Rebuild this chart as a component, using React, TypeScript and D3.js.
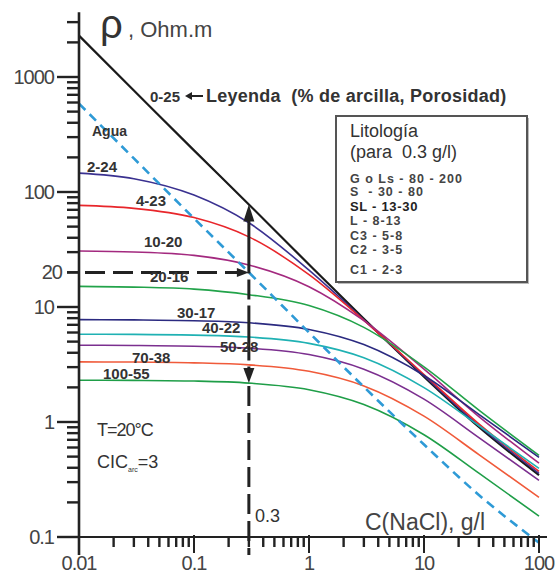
import * as d3 from "d3";

// NaCl concentration (g/l) where the curves were read
const conc = [0.01, 0.03, 0.1, 0.3, 1, 3, 10, 30, 100];

// water resistivity (dashed blue "Agua" line)
const agua = [587, 196, 59, 20, 6.0, 2.02, 0.637, 0.232, 0.089];

// rock resistivity per clay % - porosity label
const labels = ["0-25", "2-24", "4-23", "10-20", "20-16", "30-17", "40-22", "50-28", "70-38", "100-55"];
const s0_25 = [2290, 764, 230, 78, 23.4, 7.9, 2.48, 0.905, 0.345];
const s2_24 = [146, 130.6, 94, 54, 20.9, 7.74, 2.53, 0.93, 0.358];
const s4_23 = [76.5, 72.1, 59.9, 40.7, 19.1, 7.66, 2.59, 0.963, 0.372];
const s10_20 = [30.7, 30.1, 28.1, 23.2, 15.0, 7.6, 2.88, 1.116, 0.438];
const s20_16 = [15.1, 14.9, 14.3, 12.8, 10.3, 6.65, 3.02, 1.27, 0.513];
const s30_17 = [7.76, 7.72, 7.6, 7.3, 6.38, 4.71, 2.54, 1.166, 0.493];
const s40_22 = [5.8, 5.78, 5.69, 5.48, 4.83, 3.62, 1.99, 0.928, 0.395];
const s50_28 = [4.65, 4.63, 4.56, 4.39, 3.86, 2.88, 1.58, 0.732, 0.311];
const s70_38 = [3.33, 3.32, 3.27, 3.14, 2.76, 2.06, 1.124, 0.521, 0.221];
const s100_55 = [2.31, 2.3, 2.27, 2.18, 1.91, 1.42, 0.775, 0.359, 0.152];
const series = [s0_25, s2_24, s4_23, s10_20, s20_16, s30_17, s40_22, s50_28, s70_38, s100_55];
const colors = ["#1a1a1a", "#3a3190", "#e8262b", "#a3297f", "#22a34a", "#2b2a80", "#1fb1b3", "#7b2f8f", "#f05a3a", "#1f9e48"];

// label anchor (left x, baseline y) in px
const labelPos: [number, number][] = [
  [150, 102], [87, 172], [136, 206], [144, 247], [150, 282],
  [177, 318], [202, 333], [220, 352], [132, 363], [103, 379],
];

const xTickLabels = [0.01, 0.1, 1, 10, 100];
const yTickLabels = [0.1, 1, 10, 100, 1000];

const lito = [
  { t: "G o Ls - 80 - 200", b: false },
  { t: "S  - 30 - 80", b: false },
  { t: "SL - 13-30", b: true },
  { t: "L - 8-13", b: false },
  { t: "C3 - 5-8", b: false },
  { t: "C2 - 3-5", b: false },
  { t: "C1 - 2-3", b: false },
];
const litoY = [183, 196, 211, 225, 240, 254, 274];

const FONT = "Liberation Sans, Arial, Helvetica, sans-serif";

export default function App() {
  const x = d3.scaleLog().domain([0.01, 100]).range([79, 539]);
  const y = d3.scaleLog().domain([0.1, 1000]).range([537, 77]);
  const yTop = y(3650);
  const axisY = y(0.1);

  const line = d3
    .line<[number, number]>()
    .x((d) => x(d[0]))
    .y((d) => y(d[1]))
    .curve(d3.curveMonotoneX);

  const yMinor: number[] = [];
  for (let e = -1; e <= 3; e++) {
    for (let k = 1; k <= 9; k++) {
      const v = k * Math.pow(10, e);
      if (v <= 3650) yMinor.push(v);
    }
  }
  const xMinor: number[] = [];
  for (let e = -2; e <= 1; e++) {
    for (let k = 2; k <= 9; k++) xMinor.push(k * Math.pow(10, e));
  }

  const xa = x(0.3);
  const arrowTop = y(s0_25[3]);
  const arrowBot = y(s100_55[3]);
  const y20 = y(20);

  return (
    <svg
      width={558}
      height={573}
      style={{ position: "absolute", left: 0, top: 0, background: "#fff" }}
      fontFamily={FONT}
    >
      <rect width={558} height={573} fill="#fff" />

      {/* curves */}
      {series.map((s, i) => (
        <path
          key={labels[i]}
          d={line(conc.map((c, j) => [c, s[j]] as [number, number])) || ""}
          fill="none"
          stroke={colors[i]}
          strokeWidth={i === 0 ? 2.2 : 1.6}
        />
      ))}

      {/* agua */}
      <path
        d={line(conc.map((c, j) => [c, agua[j]] as [number, number])) || ""}
        fill="none"
        stroke="#2e9ad6"
        strokeWidth={2.6}
        strokeDasharray="9,6"
      />

      {/* horizontal dashed arrow at 20 */}
      <line x1={x(0.01)} x2={xa - 10} y1={y20} y2={y20} stroke="#222" strokeWidth={3} strokeDasharray="20,8" strokeDashoffset={-6} />
      <path d={`M${xa},${y20} L${xa - 12},${y20 - 4.5} L${xa - 12},${y20 + 4.5} Z`} fill="#222" />

      {/* vertical double arrow at 0.3 */}
      <line x1={xa} x2={xa} y1={arrowTop + 14} y2={arrowBot - 12} stroke="#222" strokeWidth={3} strokeDasharray="55,6,20,6" />
      <path d={`M${xa},${arrowTop} L${xa - 5.5},${arrowTop + 17} L${xa + 5.5},${arrowTop + 17} Z`} fill="#222" />
      <path d={`M${xa},${arrowBot} L${xa - 5.5},${arrowBot - 15} L${xa + 5.5},${arrowBot - 15} Z`} fill="#222" />
      <line x1={xa} x2={xa} y1={arrowBot + 3} y2={555} stroke="#222" strokeWidth={3} strokeDasharray="20,7" />

      {/* axes */}
      <line x1={x(0.01)} x2={x(0.01)} y1={yTop} y2={555} stroke="#222" strokeWidth={2.6} />
      <line x1={x(0.01)} x2={547} y1={axisY} y2={axisY} stroke="#222" strokeWidth={2} />
      {yMinor.map((v) => {
        const major = yTickLabels.includes(v);
        return (
          <line key={"y" + v} x1={major ? 57 : 67} x2={79} y1={y(v)} y2={y(v)} stroke="#222" strokeWidth={2.4} />
        );
      })}
      <line x1={67} x2={79} y1={y20} y2={y20} stroke="#222" strokeWidth={2.4} />
      {xMinor.map((v) => (
        <line key={"x" + v} x1={x(v)} x2={x(v)} y1={axisY} y2={axisY + 10} stroke="#222" strokeWidth={2.4} />
      ))}
      {xTickLabels.map((v) => (
        <line key={"xm" + v} x1={x(v)} x2={x(v)} y1={axisY - 2} y2={axisY + 16} stroke="#222" strokeWidth={2} />
      ))}

      {/* tick labels */}
      {yTickLabels.map((v) => (
        <text key={"yl" + v} x={54} y={y(v) + 7} textAnchor="end" fontSize={20} letterSpacing={-1} fill="#444">
          {String(v)}
        </text>
      ))}
      <text x={62} y={y20 + 7} textAnchor="end" fontSize={20} letterSpacing={-1} fill="#444">20</text>
      {xTickLabels.map((v) => (
        <text key={"xl" + v} x={x(v)} y={570} textAnchor="middle" fontSize={20} letterSpacing={-1} fill="#444">
          {String(v)}
        </text>
      ))}

      {/* axis titles */}
      <text x={100} y={38} fontSize={40} fill="#333">ρ</text>
      <text x={128} y={37} fontSize={22} fill="#444">, Ohm.m</text>
      <text x={365} y={530} fontSize={23} fill="#444">C(NaCl), g/l</text>
      <text x={255} y={522} fontSize={18} fill="#333">0.3</text>

      {/* curve labels */}
      {labels.map((l, i) => (
        <text key={"lab" + l} x={labelPos[i][0]} y={labelPos[i][1]} fontSize={15} fontWeight="bold" fill="#333">
          {l}
        </text>
      ))}
      <text x={92} y={136} fontSize={14} fontWeight="bold" fill="#333">Agua</text>

      {/* legend note */}
      <line x1={190} x2={203} y1={96} y2={96} stroke="#222" strokeWidth={2} />
      <path d="M185,96 L192,92 L192,100 Z" fill="#222" />
      <text x={206} y={102} fontSize={18} fontWeight="bold" letterSpacing={0.25} fill="#333" style={{ whiteSpace: "pre" }}>
        Leyenda  (% de arcilla, Porosidad)
      </text>

      {/* litologia box */}
      <rect x={338} y={118} width={191} height={166} fill="#bbb" />
      <rect x={336} y={116} width={191} height={166} fill="#fff" stroke="#555" strokeWidth={2} />
      <text x={350} y={137} fontSize={18} fill="#333">Litología</text>
      <text x={350} y={158} fontSize={18} fill="#333" style={{ whiteSpace: "pre" }}>(para  0.3 g/l)</text>
      {lito.map((d, i) => (
        <text
          key={d.t}
          x={350}
          y={litoY[i]}
          fontSize={d.b ? 13 : 12.5}
          letterSpacing={d.b ? 0.7 : 1}
          fontWeight={d.b ? 900 : 600}
          fill={d.b ? "#222" : "#444"}
          style={{ whiteSpace: "pre" }}
        >
          {d.t}
        </text>
      ))}

      {/* conditions */}
      <text x={97} y={436} fontSize={18} letterSpacing={-1} fill="#333">T=20°C</text>
      <text x={97} y={468} fontSize={18} fill="#333">
        CIC<tspan fontSize={7} dy={4}>arc</tspan><tspan dy={-4}>=3</tspan>
      </text>
    </svg>
  );
}
